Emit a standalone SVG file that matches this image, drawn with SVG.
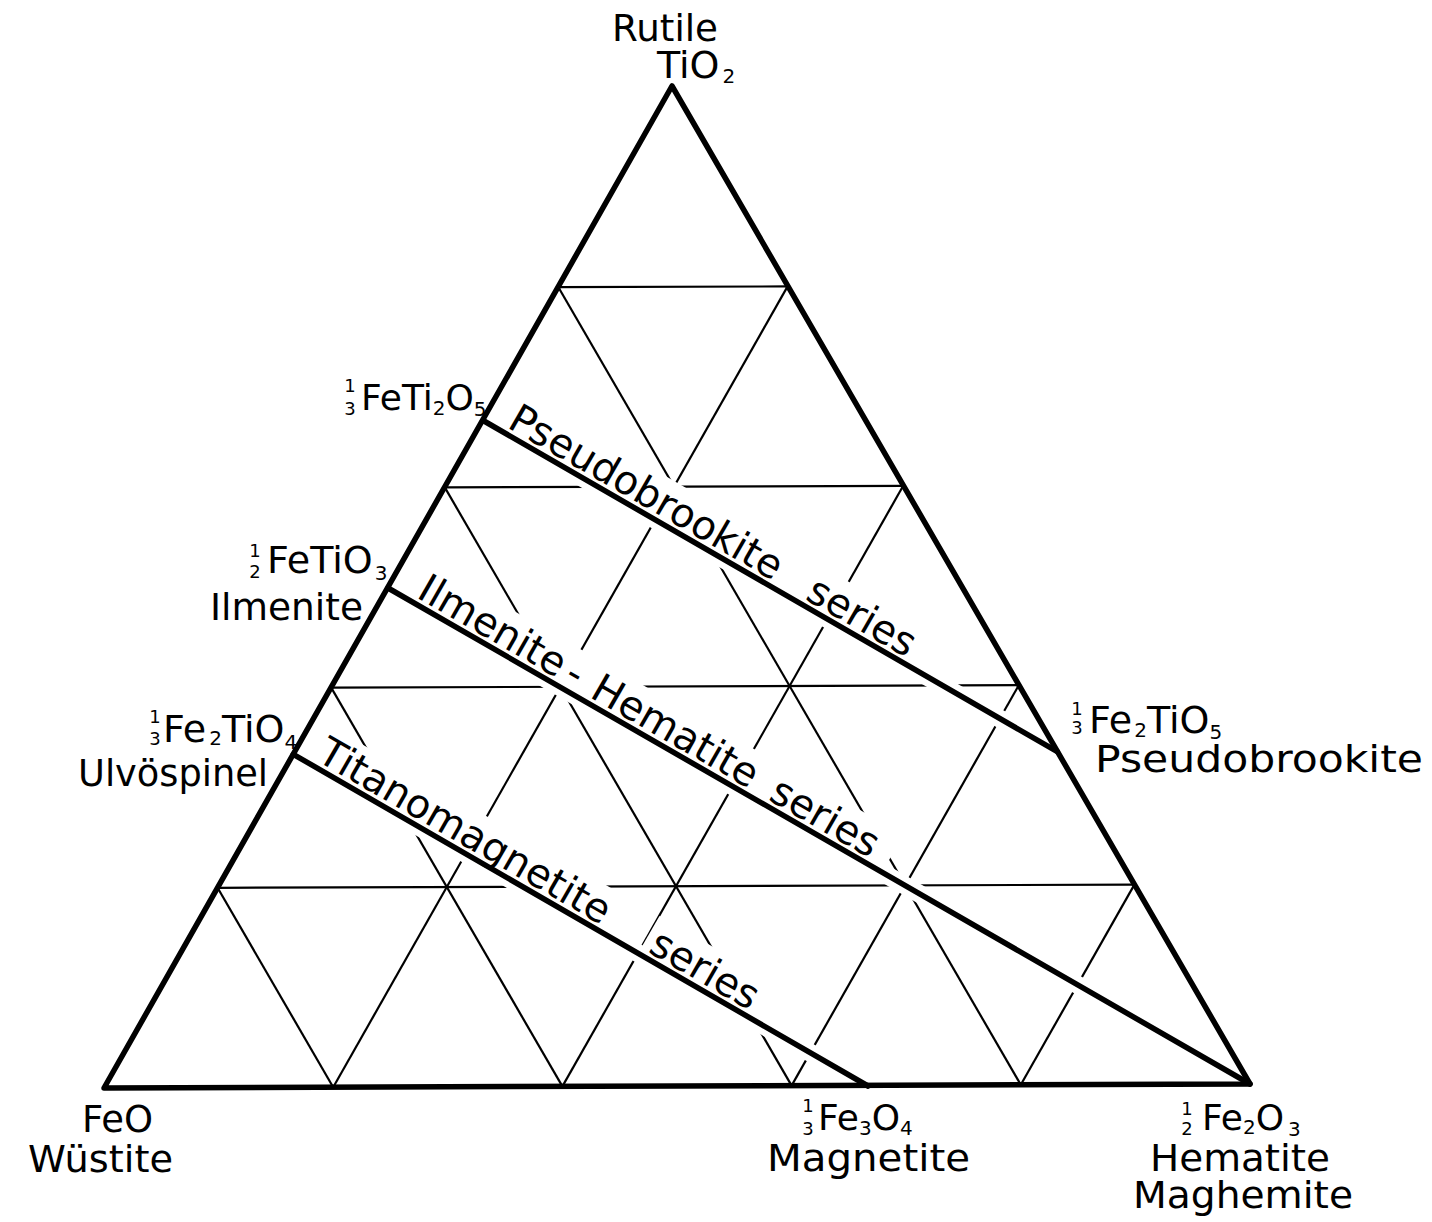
<svg xmlns="http://www.w3.org/2000/svg" width="1432" height="1222" viewBox="0 0 1432 1222">
<style>
.edge{fill:none;stroke:#000;stroke-width:5.5;stroke-linejoin:round;stroke-linecap:round}
.grid{stroke:#000;stroke-width:2.2;stroke-linecap:butt}
.series{stroke:#000;stroke-width:5.5;stroke-linecap:round}
.lbl{font-family:"DejaVu Sans","Liberation Sans",sans-serif;font-size:38px;fill:#000}
.f36{font-size:36px}
.slbl{font-family:"DejaVu Sans","Liberation Sans",sans-serif;font-size:40px;fill:#000}
.sub{font-size:20px}
.frac{font-family:"DejaVu Sans","Liberation Sans",sans-serif;font-size:18px;fill:#000;text-anchor:middle}
</style>
<defs>
<mask id="gaps" maskUnits="userSpaceOnUse" x="0" y="0" width="1432" height="1222">
<rect x="0" y="0" width="1432" height="1222" fill="#fff"/>
<g fill="#000">
<g transform="translate(484,421) rotate(29.98)">
<rect x="-5" y="-9" width="672" height="18"/>
<rect x="16" y="-43" width="330" height="43"/>
<rect x="358" y="-43" width="148" height="43"/>
</g>
<g transform="translate(388,588) rotate(29.92)">
<rect x="-5" y="-9" width="1005" height="18"/>
<rect x="20" y="-43" width="392" height="43"/>
<rect x="426" y="-43" width="144" height="43"/>
</g>
<g transform="translate(293.3,754.3) rotate(29.99)">
<rect x="-5" y="-9" width="672" height="18"/>
<rect x="15" y="-43" width="345" height="43"/>
<rect x="398" y="-43" width="145" height="43"/>
</g>
</g>
</mask>
</defs>
<rect x="0" y="0" width="1432" height="1222" fill="#fff"/>

<g id="grid" mask="url(#gaps)">
<line class="grid" x1="217.6" y1="887.8" x2="1134.4" y2="884.6"/>
<line class="grid" x1="331.2" y1="687.6" x2="1018.8" y2="685.2"/>
<line class="grid" x1="444.8" y1="487.4" x2="903.2" y2="485.8"/>
<line class="grid" x1="558.4" y1="287.2" x2="787.6" y2="286.4"/>
<line class="grid" x1="333.2" y1="1087.2" x2="787.6" y2="286.4"/>
<line class="grid" x1="562.4" y1="1086.4" x2="903.2" y2="485.8"/>
<line class="grid" x1="791.6" y1="1085.6" x2="1018.8" y2="685.2"/>
<line class="grid" x1="1020.8" y1="1084.8" x2="1134.4" y2="884.6"/>
<line class="grid" x1="333.2" y1="1087.2" x2="217.6" y2="887.8"/>
<line class="grid" x1="562.4" y1="1086.4" x2="331.2" y2="687.6"/>
<line class="grid" x1="791.6" y1="1085.6" x2="444.8" y2="487.4"/>
<line class="grid" x1="1020.8" y1="1084.8" x2="558.4" y2="287.2"/>
</g>

<g id="triangle">
<path class="edge" d="M672,86 L1250,1084 L104,1088 Z"/>
</g>

<g id="connectors">
<line class="series" x1="484" y1="421" x2="1057.3" y2="751.7"/>
<line class="series" x1="388" y1="588" x2="1250" y2="1084"/>
<line class="series" x1="293.3" y1="754.3" x2="868" y2="1086"/>
</g>

<g id="label-pseudobrookite-series" transform="translate(484,421) rotate(29.98)">
<text class="slbl" y="-6"><tspan x="22">Pseudobrookite</tspan><tspan x="366">series</tspan></text>
</g>
<g id="label-ilmenite-hematite-series" transform="translate(388,588) rotate(29.92)">
<text class="slbl" y="-6"><tspan x="28">Ilmenite</tspan><tspan x="198">-</tspan><tspan x="228">Hematite</tspan><tspan x="434">series</tspan></text>
</g>
<g id="label-titanomagnetite-series" transform="translate(293.3,754.3) rotate(29.99)">
<text class="slbl" y="-6"><tspan x="22">Titanomagnetite</tspan><tspan x="405">series</tspan></text>
</g>

<g id="node-rutile">
<text class="lbl" x="612" y="41" textLength="106" lengthAdjust="spacingAndGlyphs">Rutile</text>
<text class="lbl" x="657" y="78">TiO<tspan class="sub" dx="3" dy="5">2</tspan></text>
</g>

<g id="node-feti2o5">
<text class="frac"><tspan x="350" y="392">1</tspan><tspan x="350" y="415">3</tspan></text>
<text class="lbl f36" x="361" y="410">FeTi<tspan class="sub" dy="5">2</tspan><tspan dy="-5">O</tspan><tspan class="sub" dy="6">5</tspan></text>
</g>

<g id="node-ilmenite">
<text class="frac"><tspan x="255" y="557">1</tspan><tspan x="255" y="578">2</tspan></text>
<text class="lbl" x="267" y="573">FeTiO<tspan class="sub" dx="2" dy="7">3</tspan></text>
<text class="lbl" x="210" y="620" textLength="153" lengthAdjust="spacingAndGlyphs">Ilmenite</text>
</g>

<g id="node-ulvospinel">
<text class="frac"><tspan x="155" y="723">1</tspan><tspan x="155" y="745">3</tspan></text>
<text class="lbl" x="163" y="742">Fe<tspan class="sub" dx="3" dy="3">2</tspan><tspan dy="-3">TiO</tspan><tspan class="sub" dy="7">4</tspan></text>
<text class="lbl" x="78" y="786" textLength="190" lengthAdjust="spacingAndGlyphs">Ulvöspinel</text>
</g>

<g id="node-pseudobrookite">
<text class="frac"><tspan x="1077" y="715">1</tspan><tspan x="1077" y="734">3</tspan></text>
<text class="lbl" x="1089" y="733">Fe<tspan class="sub" dx="2" dy="4">2</tspan><tspan dy="-4">TiO</tspan><tspan class="sub" dy="6">5</tspan></text>
<text class="lbl" x="1095" y="772" textLength="328" lengthAdjust="spacingAndGlyphs">Pseudobrookite</text>
</g>

<g id="node-wustite">
<text class="lbl" x="82" y="1132" textLength="71" lengthAdjust="spacingAndGlyphs">FeO</text>
<text class="lbl" x="28" y="1172" textLength="145" lengthAdjust="spacingAndGlyphs">Wüstite</text>
</g>

<g id="node-magnetite">
<text class="frac"><tspan x="808" y="1112">1</tspan><tspan x="808" y="1135">3</tspan></text>
<text class="lbl f36" x="818" y="1130">Fe<tspan class="sub" dy="5">3</tspan><tspan dy="-5">O</tspan><tspan class="sub" dy="5">4</tspan></text>
<text class="lbl" x="767" y="1171" textLength="203" lengthAdjust="spacingAndGlyphs">Magnetite</text>
</g>

<g id="node-hematite">
<text class="frac"><tspan x="1187" y="1115">1</tspan><tspan x="1187" y="1135">2</tspan></text>
<text class="lbl f36" x="1202" y="1130">Fe<tspan class="sub" dy="4">2</tspan><tspan dy="-4">O</tspan><tspan class="sub" dx="4" dy="6">3</tspan></text>
<text class="lbl" x="1150" y="1171" textLength="180" lengthAdjust="spacingAndGlyphs">Hematite</text>
<text class="lbl" x="1133" y="1208" textLength="220" lengthAdjust="spacingAndGlyphs">Maghemite</text>
</g>
</svg>
